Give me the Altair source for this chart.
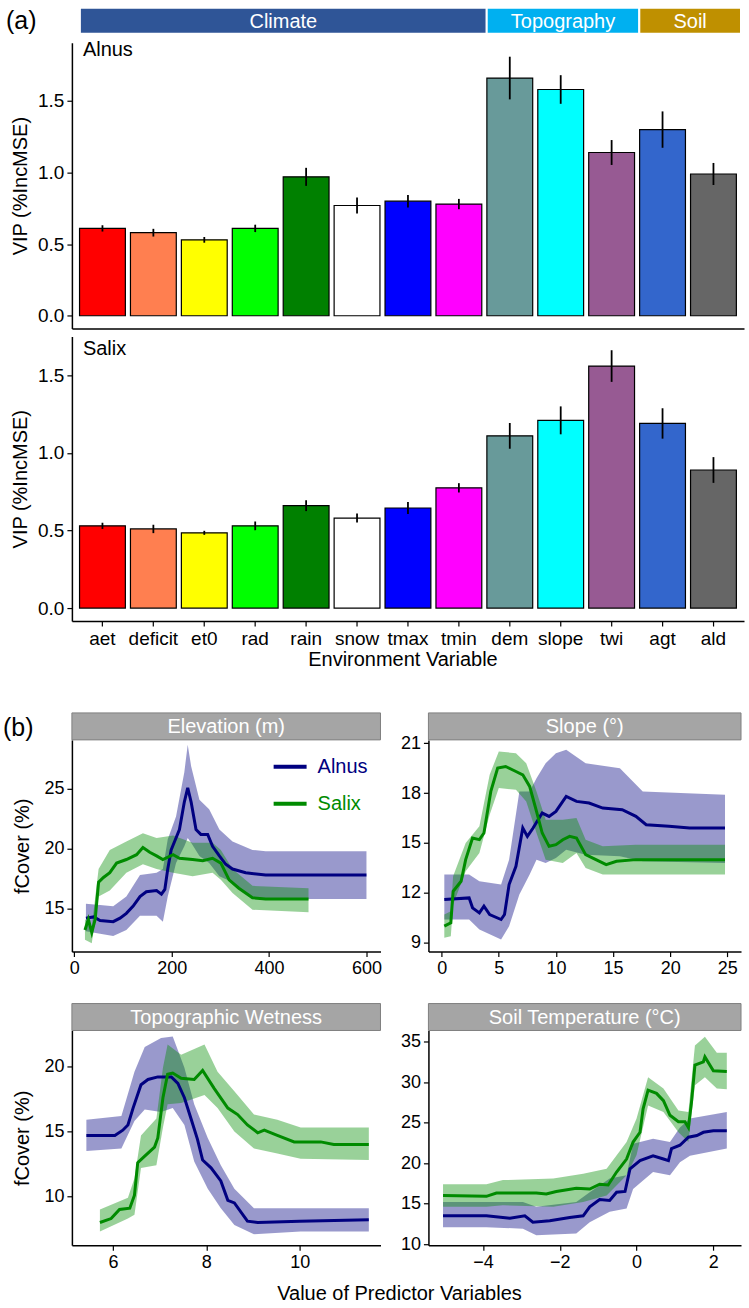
import altair as alt
import pandas as pd

FONT = "Liberation Sans"

# ---------------- (a) variable importance (VIP, %IncMSE) ----------------
VARIABLES = ["aet", "deficit", "et0", "rad", "rain", "snow", "tmax", "tmin",
             "dem", "slope", "twi", "agt", "ald"]
VAR_COLORS = ["#FF0000", "#FF7F50", "#FFFF00", "#00FF00", "#008000", "#FFFFFF",
              "#0000FF", "#FF00FF", "#689A9A", "#00FFFF", "#975A93", "#3366CC",
              "#666666"]

ALNUS_VIP = [0.61, 0.58, 0.53, 0.61, 0.97, 0.77, 0.80, 0.78, 1.66, 1.58, 1.14, 1.30, 0.99]
ALNUS_SE = [0.022, 0.027, 0.020, 0.026, 0.063, 0.056, 0.044, 0.036, 0.149, 0.100, 0.087, 0.127, 0.077]
SALIX_VIP = [0.53, 0.51, 0.485, 0.53, 0.66, 0.58, 0.645, 0.775, 1.11, 1.21, 1.56, 1.19, 0.89]
SALIX_SE = [0.020, 0.027, 0.013, 0.028, 0.035, 0.029, 0.038, 0.030, 0.083, 0.090, 0.102, 0.098, 0.083]

# predictor groups: first / last variable slot covered by each group
GROUPS = ["Climate", "Topography", "Soil"]
GROUP_FIRST = [0, 8, 11]
GROUP_LAST = [8, 11, 13]
GROUP_COLORS = ["#2F5597", "#00B0F0", "#BF9000"]

# ---------------- (b) partial dependence of fCover ----------------
SPECIES = ["Alnus", "Salix"]
SPECIES_COLORS = ["#000080", "#008B00"]

# Elevation (m)
ELEV_ALNUS_X = [24, 40, 53, 80, 94, 107, 121, 135, 148, 169, 179, 186, 192, 199, 206,
                216, 226, 233, 240, 250, 260, 274, 284, 298, 311, 325, 352, 393, 461, 600]
ELEV_ALNUS_Y = [14.2, 14.3, 14.0, 13.9, 14.2, 14.6, 15.2, 16.0, 16.4, 16.5, 16.2, 16.6, 18.3, 19.9, 20.6,
                21.6, 23.9, 25.1, 23.9, 21.6, 21.2, 21.2, 20.2, 19.4, 18.7, 18.3, 18.0, 17.8, 17.8, 17.8]
ELEV_ALNUS_BAND_X = [24, 53, 80, 107, 135, 169, 182, 192, 209, 226, 233, 240, 257, 277, 298, 325, 366, 393, 600]
ELEV_ALNUS_HI = [15.4, 15.3, 15.2, 16.0, 17.8, 18.0, 18.3, 20.8, 22.7, 26.4, 28.7, 26.9, 24.1, 23.3, 21.6, 20.6, 19.9, 19.8, 19.8]
ELEV_ALNUS_LO = [13.1, 12.9, 12.7, 13.2, 14.4, 14.4, 13.9, 16.0, 18.8, 20.2, 20.9, 20.5, 19.4, 18.8, 17.7, 17.2, 15.9, 15.8, 15.8]
ELEV_SALIX_X = [22, 29, 36, 43, 50, 60, 73, 87, 107, 128, 141, 155, 169, 182, 203,
                216, 243, 264, 284, 301, 318, 338, 366, 393, 481]
ELEV_SALIX_Y = [13.2, 14.1, 13.0, 14.1, 17.2, 17.6, 18.0, 18.8, 19.1, 19.5, 20.1, 19.7, 19.4, 19.1, 19.5,
                19.2, 19.1, 19.0, 19.2, 18.8, 17.4, 16.7, 15.9, 15.8, 15.8]
ELEV_SALIX_BAND_X = [22, 36, 50, 73, 107, 141, 169, 203, 243, 284, 301, 325, 366, 481]
ELEV_SALIX_HI = [14.1, 13.5, 18.3, 19.9, 20.6, 21.3, 20.9, 21.1, 20.5, 20.5, 19.9, 18.3, 16.9, 16.7]
ELEV_SALIX_LO = [12.4, 12.1, 16.0, 16.5, 18.0, 18.7, 18.3, 18.0, 17.7, 18.0, 17.4, 16.3, 14.9, 14.7]

# Slope (degrees)
SLOPE_ALNUS_X = [0.23, 2.4, 2.7, 3.3, 3.7, 4.2, 5.2, 5.5, 5.9, 6.5, 7.1, 7.5, 8.0, 8.8, 9.4,
                 10.0, 10.9, 11.8, 12.9, 14.1, 15.8, 17.0, 17.9, 19.9, 21.7, 24.8]
SLOPE_ALNUS_Y = [11.6, 11.7, 11.1, 10.8, 11.2, 10.7, 10.4, 10.7, 12.5, 13.6, 15.9, 15.4, 15.9, 16.8, 16.6,
                 16.9, 17.8, 17.5, 17.4, 17.1, 17.0, 16.6, 16.1, 16.0, 15.9, 15.9]
SLOPE_ALNUS_BAND_X = [0.23, 2.4, 3.3, 5.2, 5.9, 6.8, 7.7, 8.3, 9.1, 10.0, 10.9, 12.6, 15.6, 17.6, 24.8]
SLOPE_ALNUS_HI = [13.1, 13.1, 12.7, 12.5, 14.0, 18.1, 18.1, 18.9, 19.8, 20.4, 20.6, 19.8, 19.5, 18.1, 17.9]
SLOPE_ALNUS_LO = [10.4, 10.4, 9.8, 9.2, 10.0, 11.9, 13.1, 14.0, 13.8, 14.1, 14.6, 14.3, 14.2, 13.9, 13.8]
SLOPE_SALIX_X = [0.23, 0.8, 1.0, 1.7, 2.1, 2.7, 3.3, 3.7, 4.3, 4.9, 5.6, 6.5, 7.1, 7.7, 8.3,
                 8.8, 9.4, 10.0, 10.6, 11.2, 11.8, 12.6, 13.5, 14.4, 15.3, 17.0, 24.8]
SLOPE_SALIX_Y = [10.0, 10.2, 12.1, 12.7, 14.0, 15.3, 15.2, 15.6, 18.1, 19.5, 19.6, 19.3, 19.1, 18.4, 16.9,
                 15.6, 14.8, 14.9, 15.2, 15.4, 15.3, 14.3, 14.0, 13.7, 13.9, 14.0, 14.0]
SLOPE_SALIX_BAND_X = [0.23, 0.8, 1.0, 2.1, 3.3, 4.2, 5.0, 6.5, 7.4, 8.3, 9.1, 10.6, 11.8, 12.6, 14.1, 17.0, 24.8]
SLOPE_SALIX_HI = [10.7, 10.9, 13.0, 15.0, 16.0, 19.1, 20.5, 20.4, 19.8, 18.1, 16.4, 16.4, 16.5, 15.2, 14.8, 14.9, 14.9]
SLOPE_SALIX_LO = [9.3, 9.4, 11.3, 13.3, 14.4, 16.7, 18.3, 18.2, 17.5, 15.6, 14.0, 13.8, 14.4, 13.5, 13.1, 13.1, 13.1]

# Topographic wetness index
TWI_ALNUS_X = [5.43, 6.04, 6.21, 6.32, 6.43, 6.6, 6.75, 6.96, 7.25, 7.39, 7.53, 7.67, 7.81, 7.92,
               8.1, 8.31, 8.46, 8.6, 8.88, 9.1, 10.0, 11.48]
TWI_ALNUS_Y = [14.7, 14.7, 15.1, 15.5, 16.8, 18.6, 19.0, 19.2, 19.2, 18.7, 17.6, 16.0, 14.4, 12.8,
               12.2, 11.2, 9.7, 9.5, 8.1, 8.0, 8.1, 8.2]
TWI_ALNUS_BAND_X = [5.43, 6.18, 6.46, 6.68, 7.03, 7.28, 7.53, 7.74, 8.03, 8.31, 8.6, 9.02, 10.02, 11.48]
TWI_ALNUS_HI = [15.9, 16.2, 19.6, 21.5, 22.2, 22.3, 19.9, 17.1, 14.5, 12.4, 10.6, 9.1, 9.1, 9.1]
TWI_ALNUS_LO = [13.5, 13.7, 15.8, 16.7, 16.5, 16.8, 15.5, 12.7, 10.6, 9.1, 7.8, 7.1, 7.3, 7.3]
TWI_SALIX_X = [5.72, 5.96, 6.14, 6.36, 6.46, 6.53, 6.68, 6.89, 6.96, 7.07, 7.17, 7.28, 7.46, 7.74,
               7.92, 8.17, 8.46, 8.67, 8.88, 9.1, 9.24, 9.52, 9.88, 10.45, 10.73, 11.48]
TWI_SALIX_Y = [8.0, 8.3, 9.0, 9.1, 10.1, 12.6, 13.1, 13.8, 14.5, 17.6, 19.4, 19.5, 19.1, 19.0,
               19.7, 18.3, 16.8, 16.3, 15.5, 14.9, 15.1, 14.7, 14.2, 14.2, 14.0, 14.0]
TWI_SALIX_BAND_X = [5.72, 6.32, 6.46, 6.6, 6.93, 7.07, 7.17, 7.46, 7.96, 8.24, 8.6, 9.02, 9.52, 10.02, 11.48]
TWI_SALIX_HI = [9.0, 9.9, 11.4, 14.7, 16.0, 19.9, 21.7, 20.9, 21.7, 19.6, 18.1, 16.3, 15.9, 15.3, 15.3]
TWI_SALIX_LO = [7.3, 8.3, 8.6, 12.2, 12.4, 15.3, 17.1, 17.2, 17.8, 16.8, 15.0, 13.7, 13.3, 12.9, 12.8]

# Soil temperature (degrees C)
SOIL_ALNUS_X = [-5.04, -3.91, -3.3, -2.91, -2.7, -2.26, -1.74, -1.39, -1.22, -0.96, -0.7, -0.52, -0.3,
                -0.17, 0.09, 0.43, 0.7, 0.83, 0.91, 1.13, 1.35, 1.57, 1.74, 2.0, 2.35]
SOIL_ALNUS_Y = [13.5, 13.5, 13.2, 13.5, 12.7, 12.9, 13.3, 13.5, 14.6, 15.5, 15.4, 16.4, 16.5,
                19.3, 20.3, 20.9, 20.5, 20.3, 21.8, 22.2, 23.2, 23.4, 23.8, 24.0, 24.0]
SOIL_ALNUS_BAND_X = [-5.04, -3.91, -2.96, -2.61, -1.57, -1.22, -0.7, -0.26, -0.09, 0.43, 0.87, 1.13, 1.39, 2.35]
SOIL_ALNUS_HI = [15.2, 15.2, 15.2, 14.6, 15.2, 16.4, 18.1, 18.5, 22.4, 23.0, 22.6, 24.4, 25.5, 26.3]
SOIL_ALNUS_LO = [12.1, 12.1, 11.9, 11.1, 11.3, 12.7, 14.0, 14.4, 16.8, 18.9, 18.5, 20.1, 20.9, 21.8]
SOIL_SALIX_X = [-5.04, -3.91, -3.65, -2.61, -2.35, -2.09, -1.57, -1.22, -0.96, -0.74, -0.52, -0.26, -0.09, 0.09,
                0.17, 0.30, 0.52, 0.70, 0.87, 1.09, 1.26, 1.35, 1.43, 1.52, 1.74, 1.78, 2.0, 2.35]
SOIL_SALIX_Y = [16.0, 15.9, 16.3, 16.3, 16.2, 16.5, 16.9, 16.8, 17.4, 17.3, 18.9, 20.5, 22.6, 23.8,
                26.7, 29.0, 28.6, 27.7, 25.9, 25.1, 25.1, 24.4, 27.5, 32.1, 32.5, 33.1, 31.4, 31.3]
SOIL_SALIX_BAND_X = [-5.04, -3.91, -3.48, -2.17, -1.39, -0.78, -0.26, 0.0, 0.30, 0.70, 1.09, 1.35, 1.52, 1.78, 2.09, 2.35]
SOIL_SALIX_HI = [17.4, 17.4, 17.9, 18.1, 18.7, 19.3, 22.6, 25.5, 30.6, 29.2, 26.5, 26.3, 34.5, 35.6, 33.6, 33.6]
SOIL_SALIX_LO = [14.6, 14.6, 14.8, 14.6, 15.2, 16.0, 18.5, 21.0, 27.1, 26.3, 23.8, 22.6, 29.6, 30.6, 29.2, 29.1]


def species_scale():
    return alt.Scale(domain=SPECIES, range=SPECIES_COLORS)


# ---------------- helpers ----------------
def importance_frame(vip, se):
    return pd.DataFrame({
        "var": VARIABLES,
        "vip": vip,
        "lo": [v - s for v, s in zip(vip, se)],
        "hi": [v + s for v, s in zip(vip, se)],
        "base": [0.0] * len(vip),
    })


def importance_panel(name, vip, se, y_domain, name_y, bottom):
    df = importance_frame(vip, se)
    if bottom:
        x_axis = alt.Axis(title="Environment Variable", labelAngle=0, labelFontSize=19,
                          titleFontSize=20, titlePadding=2, titleX=331)
    else:
        x_axis = alt.Axis(title=None, labels=False, ticks=False)
    x = alt.X("var:N", sort=VARIABLES,
              scale=alt.Scale(paddingInner=0.1, paddingOuter=0.15), axis=x_axis)
    y_axis = alt.Axis(title="VIP (%IncMSE)", values=[0, 0.5, 1.0, 1.5], format=".1f",
                      labelFontSize=19, minExtent=34, maxExtent=34, titlePadding=7)
    y = alt.Y("vip:Q", scale=alt.Scale(domain=y_domain, nice=False, zero=False), axis=y_axis)
    bars = alt.Chart(df).mark_bar(stroke="black", strokeWidth=1.2).encode(
        x=x, y=y, y2=alt.Y2("base"),
        fill=alt.Fill("var:N", scale=alt.Scale(domain=VARIABLES, range=VAR_COLORS), legend=None),
    )
    err = alt.Chart(df).mark_rule(color="black", strokeWidth=1.8).encode(
        x=alt.X("var:N", sort=VARIABLES), y=alt.Y("lo:Q"), y2=alt.Y2("hi"),
    )
    label = alt.Chart(pd.DataFrame({"t": [name]})).mark_text(
        align="left", baseline="alphabetic", fontSize=20, color="black"
    ).encode(x=alt.value(11), y=alt.value(name_y), text="t:N")
    return alt.layer(bars, err, label)


def long_lines(ax, ay, sx, sy):
    return pd.DataFrame({
        "species": ["Alnus"] * len(ax) + ["Salix"] * len(sx),
        "x": ax + sx,
        "y": ay + sy,
    })


def long_bands(ax, alo, ahi, sx, slo, shi):
    return pd.DataFrame({
        "species": ["Alnus"] * len(ax) + ["Salix"] * len(sx),
        "x": ax + sx,
        "lo": alo + slo,
        "hi": ahi + shi,
    })


def species_key(row_y):
    """Line swatch + coloured name for each species, drawn inside the panel."""
    key_df = pd.DataFrame({"species": SPECIES})
    layers = []
    for sp, yy in zip(SPECIES, row_y):
        base = alt.Chart(key_df).transform_filter(alt.datum.species == sp)
        layers.append(base.mark_rule(strokeWidth=4).encode(
            x=alt.value(202), x2=alt.value(235), y=alt.value(yy),
            stroke=alt.Stroke("species:N", scale=species_scale(), legend=None)))
        layers.append(base.mark_text(align="left", baseline="middle", fontSize=20).encode(
            x=alt.value(246), y=alt.value(yy), text="species:N",
            fill=alt.Fill("species:N", scale=species_scale(), legend=None)))
    return layers


def pdp_panel(strip_label, lines, bands, x_domain, y_domain, x_ticks, y_ticks,
              width, height, y_title=None, extra=()):
    xs = alt.Scale(domain=x_domain, nice=False, zero=False)
    ys = alt.Scale(domain=y_domain, nice=False, zero=False)
    x_axis = alt.Axis(values=x_ticks, title=None, labelFontSize=18)
    if y_title:
        y_axis = alt.Axis(values=y_ticks, title=y_title, labelFontSize=18,
                          minExtent=32, maxExtent=32, titlePadding=7)
    else:
        y_axis = alt.Axis(values=y_ticks, title=None, labelFontSize=18)
    band = alt.Chart(bands).mark_area(opacity=0.4).encode(
        x=alt.X("x:Q", scale=xs, axis=x_axis),
        y=alt.Y("hi:Q", scale=ys, axis=y_axis),
        y2=alt.Y2("lo"),
        fill=alt.Fill("species:N", scale=species_scale(), legend=None),
    )
    line = alt.Chart(lines).mark_line(strokeWidth=3).encode(
        x=alt.X("x:Q", scale=xs, axis=x_axis),
        y=alt.Y("y:Q", scale=ys, axis=y_axis),
        stroke=alt.Stroke("species:N", scale=species_scale(), legend=None),
    )
    strip_df = pd.DataFrame({"label": [strip_label]})
    strip = alt.Chart(strip_df).mark_rect(fill="#A5A5A5", stroke="#7F7F7F", strokeWidth=1).encode(
        x=alt.value(0), x2=alt.value(width), y=alt.value(-27), y2=alt.value(0))
    strip_text = alt.Chart(strip_df).mark_text(color="white", fontSize=20, baseline="middle").encode(
        x=alt.value(width / 2), y=alt.value(-13), text="label:N")
    return alt.layer(band, line, strip, strip_text, *extra).properties(width=width, height=height)


# ---------------- (a) ----------------
header_df = pd.DataFrame({"group": GROUPS, "first": GROUP_FIRST, "last": GROUP_LAST})
header_df["mid"] = (header_df["first"] + header_df["last"]) / 2
hx = alt.Scale(domain=[-0.157, 13.059], nice=False, zero=False)
header_rect = alt.Chart(header_df).mark_rect(stroke="white", strokeWidth=2).encode(
    x=alt.X("first:Q", scale=hx, axis=None), x2=alt.X2("last"),
    y=alt.value(-35), y2=alt.value(-9),
    fill=alt.Fill("group:N", scale=alt.Scale(domain=GROUPS, range=GROUP_COLORS), legend=None),
)
header_text = alt.Chart(header_df).mark_text(color="white", fontSize=20, baseline="middle").encode(
    x=alt.X("mid:Q", scale=hx, axis=None), y=alt.value(-21), text="group:N")
tag_a = alt.Chart(pd.DataFrame({"t": ["(a)"]})).mark_text(
    align="left", baseline="middle", fontSize=25, color="black"
).encode(x=alt.value(-66), y=alt.value(-22), text="t:N")

alnus_bars = importance_panel("Alnus", ALNUS_VIP, ALNUS_SE, [-0.0886, 1.906], 13, False)
alnus = alt.layer(alnus_bars, alt.layer(header_rect, header_text), tag_a).resolve_scale(
    x="independent", fill="independent").properties(width=673, height=286)

salix = importance_panel("Salix", SALIX_VIP, SALIX_SE, [-0.0837, 1.751], 19, True).properties(
    width=673, height=285)

part_a = alt.vconcat(alnus, salix, spacing=8, bounds="flush").resolve_scale(fill="independent")

# ---------------- (b) ----------------
tag_b = alt.Chart(pd.DataFrame({"t": ["(b)"]})).mark_text(
    align="left", baseline="middle", fontSize=25, color="black"
).encode(x=alt.value(-69), y=alt.value(-12), text="t:N")
x_title = alt.Chart(pd.DataFrame({"t": ["Value of Predictor Variables"]})).mark_text(
    align="center", baseline="middle", fontSize=20, color="black"
).encode(x=alt.value(328), y=alt.value(264), text="t:N")

elev = pdp_panel(
    "Elevation (m)",
    long_lines(ELEV_ALNUS_X, ELEV_ALNUS_Y, ELEV_SALIX_X, ELEV_SALIX_Y),
    long_bands(ELEV_ALNUS_BAND_X, ELEV_ALNUS_LO, ELEV_ALNUS_HI,
               ELEV_SALIX_BAND_X, ELEV_SALIX_LO, ELEV_SALIX_HI),
    [-4.8, 628.8], [11.4, 29.1], [0, 200, 400, 600], [15, 20, 25],
    309, 212, y_title="fCover (%)", extra=(tag_b, *species_key([27, 64])))
slope = pdp_panel(
    "Slope (°)",
    long_lines(SLOPE_ALNUS_X, SLOPE_ALNUS_Y, SLOPE_SALIX_X, SLOPE_SALIX_Y),
    long_bands(SLOPE_ALNUS_BAND_X, SLOPE_ALNUS_LO, SLOPE_ALNUS_HI,
               SLOPE_SALIX_BAND_X, SLOPE_SALIX_LO, SLOPE_SALIX_HI),
    [-1.16, 26.2], [8.47, 21.2], [0, 5, 10, 15, 20, 25], [9, 12, 15, 18, 21],
    313, 212)
twi = pdp_panel(
    "Topographic Wetness",
    long_lines(TWI_ALNUS_X, TWI_ALNUS_Y, TWI_SALIX_X, TWI_SALIX_Y),
    long_bands(TWI_ALNUS_BAND_X, TWI_ALNUS_LO, TWI_ALNUS_HI,
               TWI_SALIX_BAND_X, TWI_SALIX_LO, TWI_SALIX_HI),
    [5.12, 11.73], [6.25, 22.77], [6, 8, 10], [10, 15, 20],
    309, 215, y_title="fCover (%)", extra=(x_title,))
soil = pdp_panel(
    "Soil Temperature (°C)",
    long_lines(SOIL_ALNUS_X, SOIL_ALNUS_Y, SOIL_SALIX_X, SOIL_SALIX_Y),
    long_bands(SOIL_ALNUS_BAND_X, SOIL_ALNUS_LO, SOIL_ALNUS_HI,
               SOIL_SALIX_BAND_X, SOIL_SALIX_LO, SOIL_SALIX_HI),
    [-5.42, 2.72], [9.87, 36.36], [-4, -2, 0, 2], [10, 15, 20, 25, 30, 35],
    313, 215)

part_b = alt.concat(
    elev, slope, twi, soil, columns=2, bounds="flush", align="each",
    spacing={"row": 79, "column": 48},
).resolve_scale(fill="independent", stroke="independent")

chart = alt.vconcat(part_a, part_b, spacing=42).resolve_scale(
    fill="independent", stroke="independent"
).properties(
    padding={"left": 3, "top": 6, "right": 5, "bottom": 2}
).configure(font=FONT).configure_view(stroke=None).configure_axis(
    grid=False, domainColor="black", domainWidth=1.5, tickColor="black", tickWidth=1.2,
    tickSize=5, labelPadding=3, labelColor="black", titleColor="black",
    labelFont=FONT, titleFont=FONT, titleFontSize=20, titleFontWeight="normal",
).configure_text(font=FONT)

chart.save("out.html", embed_options={"renderer": "svg", "actions": False})
